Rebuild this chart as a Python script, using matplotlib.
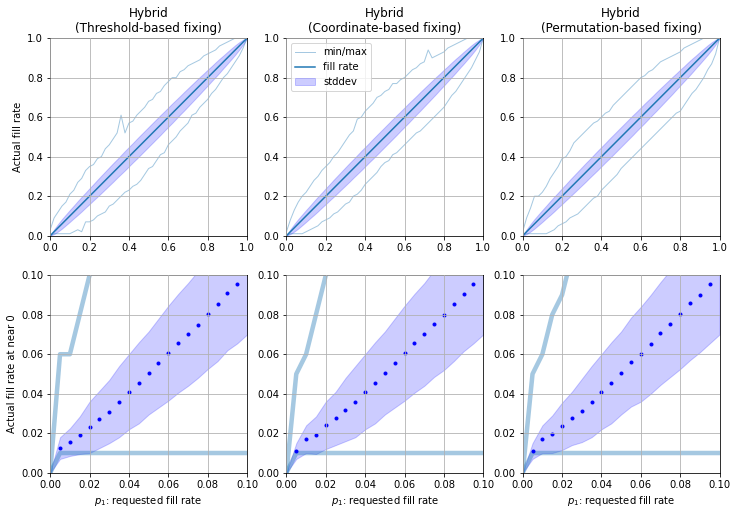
import matplotlib
matplotlib.use('Agg')
import matplotlib.pyplot as plt

TITLES = ['Hybrid\n(Threshold-based fixing)',
          'Hybrid\n(Coordinate-based fixing)',
          'Hybrid\n(Permutation-based fixing)']

# requested fill rate, full range
req = [0.00, 0.02, 0.04, 0.06, 0.08, 0.10, 0.12, 0.14, 0.16, 0.18,
       0.20, 0.22, 0.24, 0.26, 0.28, 0.30, 0.32, 0.34, 0.36, 0.38,
       0.40, 0.42, 0.44, 0.46, 0.48, 0.50, 0.52, 0.54, 0.56, 0.58,
       0.60, 0.62, 0.64, 0.66, 0.68, 0.70, 0.72, 0.74, 0.76, 0.78,
       0.80, 0.82, 0.84, 0.86, 0.88, 0.90, 0.92, 0.94, 0.96, 0.98, 1.00]

# actual fill rate (mean), same for the three methods
fill = [0.00, 0.02, 0.04, 0.06, 0.08, 0.10, 0.12, 0.14, 0.16, 0.18,
        0.20, 0.22, 0.24, 0.26, 0.28, 0.30, 0.32, 0.34, 0.36, 0.38,
        0.40, 0.42, 0.44, 0.46, 0.48, 0.50, 0.52, 0.54, 0.56, 0.58,
        0.60, 0.62, 0.64, 0.66, 0.68, 0.70, 0.72, 0.74, 0.76, 0.78,
        0.80, 0.82, 0.84, 0.86, 0.88, 0.90, 0.92, 0.94, 0.96, 0.98, 1.00]

std = [0.000, 0.012, 0.019, 0.024, 0.027, 0.030, 0.032, 0.035, 0.037, 0.038,
       0.040, 0.041, 0.043, 0.044, 0.045, 0.046, 0.047, 0.047, 0.048, 0.049,
       0.049, 0.049, 0.050, 0.050, 0.050, 0.050, 0.050, 0.050, 0.050, 0.049,
       0.049, 0.049, 0.048, 0.047, 0.047, 0.046, 0.045, 0.044, 0.043, 0.041,
       0.040, 0.038, 0.037, 0.035, 0.032, 0.030, 0.027, 0.024, 0.019, 0.012, 0.000]

max_threshold = [0.03, 0.09, 0.12, 0.15, 0.17, 0.21, 0.23, 0.27, 0.29, 0.33,
                 0.35, 0.36, 0.39, 0.40, 0.44, 0.46, 0.49, 0.52, 0.61, 0.52,
                 0.57, 0.58, 0.61, 0.63, 0.65, 0.68, 0.69, 0.72, 0.73, 0.76,
                 0.78, 0.80, 0.80, 0.83, 0.84, 0.86, 0.87, 0.88, 0.89, 0.91,
                 0.92, 0.93, 0.94, 0.96, 0.97, 0.98, 0.99, 1.00, 1.00, 1.00, 1.00]
min_threshold = [0.00, 0.01, 0.01, 0.01, 0.01, 0.01, 0.02, 0.03, 0.02, 0.07,
                 0.07, 0.08, 0.10, 0.11, 0.12, 0.15, 0.16, 0.18, 0.20, 0.22,
                 0.23, 0.25, 0.26, 0.28, 0.31, 0.34, 0.35, 0.38, 0.41, 0.42,
                 0.46, 0.48, 0.50, 0.53, 0.55, 0.57, 0.61, 0.62, 0.65, 0.67,
                 0.69, 0.72, 0.74, 0.77, 0.80, 0.82, 0.85, 0.88, 0.91, 0.95, 1.00]

max_coord = [0.02, 0.08, 0.13, 0.17, 0.20, 0.22, 0.25, 0.28, 0.30, 0.33,
             0.35, 0.37, 0.40, 0.42, 0.45, 0.48, 0.51, 0.53, 0.59, 0.60,
             0.63, 0.65, 0.67, 0.70, 0.71, 0.73, 0.74, 0.77, 0.77, 0.79,
             0.80, 0.82, 0.84, 0.85, 0.87, 0.88, 0.94, 0.90, 0.91, 0.92,
             0.93, 0.95, 0.96, 0.97, 0.98, 0.99, 1.00, 1.00, 1.00, 1.00, 1.00]
min_coord = [0.00, 0.01, 0.01, 0.01, 0.01, 0.02, 0.03, 0.04, 0.05, 0.07,
             0.08, 0.09, 0.11, 0.12, 0.14, 0.16, 0.17, 0.20, 0.21, 0.23,
             0.26, 0.28, 0.30, 0.32, 0.35, 0.37, 0.38, 0.41, 0.42, 0.44,
             0.46, 0.48, 0.50, 0.52, 0.53, 0.55, 0.57, 0.59, 0.61, 0.63,
             0.65, 0.68, 0.71, 0.73, 0.76, 0.79, 0.82, 0.85, 0.89, 0.93, 1.00]

max_perm = [0.02, 0.09, 0.14, 0.20, 0.20, 0.22, 0.25, 0.29, 0.32, 0.35,
            0.39, 0.40, 0.43, 0.47, 0.49, 0.51, 0.53, 0.55, 0.57, 0.58,
            0.60, 0.62, 0.63, 0.66, 0.68, 0.70, 0.72, 0.74, 0.76, 0.78,
            0.80, 0.81, 0.83, 0.84, 0.86, 0.88, 0.89, 0.90, 0.91, 0.92,
            0.93, 0.95, 0.96, 0.97, 0.98, 0.99, 1.00, 1.00, 1.00, 1.00, 1.00]
min_perm = [0.00, 0.01, 0.01, 0.01, 0.01, 0.01, 0.01, 0.02, 0.03, 0.05,
            0.06, 0.07, 0.09, 0.10, 0.11, 0.13, 0.15, 0.17, 0.19, 0.20,
            0.23, 0.25, 0.27, 0.29, 0.31, 0.34, 0.36, 0.38, 0.40, 0.42,
            0.44, 0.46, 0.48, 0.50, 0.52, 0.54, 0.56, 0.58, 0.60, 0.62,
            0.63, 0.66, 0.69, 0.72, 0.74, 0.77, 0.80, 0.84, 0.87, 0.92, 1.00]

# zoom near 0
req_near = [0.000, 0.005, 0.010, 0.015, 0.020, 0.025, 0.030, 0.035, 0.040, 0.045,
            0.050, 0.055, 0.060, 0.065, 0.070, 0.075, 0.080, 0.085, 0.090, 0.095, 0.100]

fill_near_threshold = [0.000, 0.0125, 0.0155, 0.019, 0.023, 0.027, 0.031, 0.036, 0.041, 0.0455,
                       0.0505, 0.0555, 0.0605, 0.0655, 0.070, 0.075, 0.0805, 0.0855, 0.091, 0.0955, 0.100]
fill_near_coord = [0.000, 0.011, 0.017, 0.019, 0.024, 0.0275, 0.032, 0.036, 0.041, 0.0455,
                   0.0505, 0.0555, 0.0605, 0.0655, 0.070, 0.0755, 0.080, 0.0855, 0.0905, 0.0955, 0.100]
fill_near_perm = [0.000, 0.011, 0.017, 0.0195, 0.0235, 0.0275, 0.0315, 0.036, 0.041, 0.0455,
                  0.0505, 0.056, 0.060, 0.065, 0.0705, 0.0755, 0.0805, 0.086, 0.090, 0.0955, 0.100]

std_near_threshold = [0.000, 0.0055, 0.007, 0.0095, 0.013, 0.0145, 0.016, 0.018, 0.019, 0.0205,
                      0.021, 0.0225, 0.024, 0.025, 0.026, 0.027, 0.028, 0.029, 0.029, 0.030, 0.030]
std_near_coord = [0.000, 0.004, 0.007, 0.0095, 0.012, 0.0135, 0.016, 0.018, 0.019, 0.0205,
                  0.021, 0.0225, 0.024, 0.025, 0.026, 0.027, 0.028, 0.029, 0.029, 0.030, 0.030]
std_near_perm = [0.000, 0.004, 0.007, 0.0095, 0.012, 0.0135, 0.016, 0.018, 0.019, 0.0205,
                 0.021, 0.0225, 0.024, 0.025, 0.026, 0.027, 0.028, 0.029, 0.029, 0.030, 0.030]

max_near_threshold = [0.00, 0.06, 0.06, 0.08, 0.10, 0.105, 0.11, 0.11, 0.12, 0.12,
                      0.13, 0.14, 0.15, 0.15, 0.16, 0.16, 0.17, 0.18, 0.19, 0.20, 0.21]
max_near_coord = [0.00, 0.05, 0.06, 0.08, 0.10, 0.105, 0.11, 0.12, 0.13, 0.14,
                  0.15, 0.16, 0.17, 0.17, 0.18, 0.19, 0.20, 0.21, 0.21, 0.22, 0.22]
max_near_perm = [0.00, 0.05, 0.06, 0.08, 0.09, 0.11, 0.12, 0.13, 0.14, 0.17,
                 0.20, 0.20, 0.20, 0.20, 0.20, 0.20, 0.20, 0.21, 0.21, 0.22, 0.22]
min_near = [0.00, 0.01, 0.01, 0.01, 0.01, 0.01, 0.01, 0.01, 0.01, 0.01,
            0.01, 0.01, 0.01, 0.01, 0.01, 0.01, 0.01, 0.01, 0.01, 0.01, 0.01]

tops = [(fill, std, min_threshold, max_threshold),
        (fill, std, min_coord, max_coord),
        (fill, std, min_perm, max_perm)]
nears = [(fill_near_threshold, std_near_threshold, min_near, max_near_threshold),
         (fill_near_coord, std_near_coord, min_near, max_near_coord),
         (fill_near_perm, std_near_perm, min_near, max_near_perm)]


def band(m, s):
    lo = [a - b for a, b in zip(m, s)]
    hi = [a + b for a, b in zip(m, s)]
    return lo, hi


fig, axes = plt.subplots(2, 3, figsize=(738 / 72, 515 / 72), dpi=72)
fig.subplots_adjust(left=0.068, right=0.975, top=0.926, bottom=0.082,
                    wspace=0.2, hspace=0.2)

for i in range(3):
    ax = axes[0][i]
    m, s, lo_line, hi_line = tops[i]
    lo, hi = band(m, s)
    ax.plot(req, lo_line, color='C0', alpha=0.4, lw=1, label='min/max')
    ax.plot(req, hi_line, color='C0', alpha=0.4, lw=1)
    ax.plot(req, m, color='C0', lw=1.5, label='fill rate')
    ax.fill_between(req, lo, hi, color='blue', alpha=0.2, label='stddev')
    ax.set_xlim(0, 1)
    ax.set_ylim(0, 1)
    ax.set_title(TITLES[i], fontsize=12)
    ax.set_axisbelow(False)
    ax.grid()
    if i == 0:
        ax.set_ylabel('Actual fill rate')
    if i == 1:
        ax.legend(loc='upper left')

    ax = axes[1][i]
    m, s, lo_line, hi_line = nears[i]
    lo, hi = band(m, s)
    ax.plot(req_near, lo_line, color='C0', alpha=0.4, lw=4.5)
    ax.plot(req_near, hi_line, color='C0', alpha=0.4, lw=4.5)
    # dots only inside the window (no dot on the corners)
    ax.plot(req_near[1:-1], m[1:-1], 'b.')
    ax.fill_between(req_near, lo, hi, color='blue', alpha=0.2)
    ax.set_xlim(0, 0.1)
    ax.set_ylim(0, 0.1)
    ax.set_xticks([0.0, 0.02, 0.04, 0.06, 0.08, 0.1])
    ax.set_yticks([0.0, 0.02, 0.04, 0.06, 0.08, 0.1])
    ax.set_axisbelow(False)
    ax.grid()
    ax.set_xlabel('$p_1$: requested fill rate')
    if i == 0:
        ax.set_ylabel('Actual fill rate at near 0')

fig.savefig('out.png', dpi=72)
